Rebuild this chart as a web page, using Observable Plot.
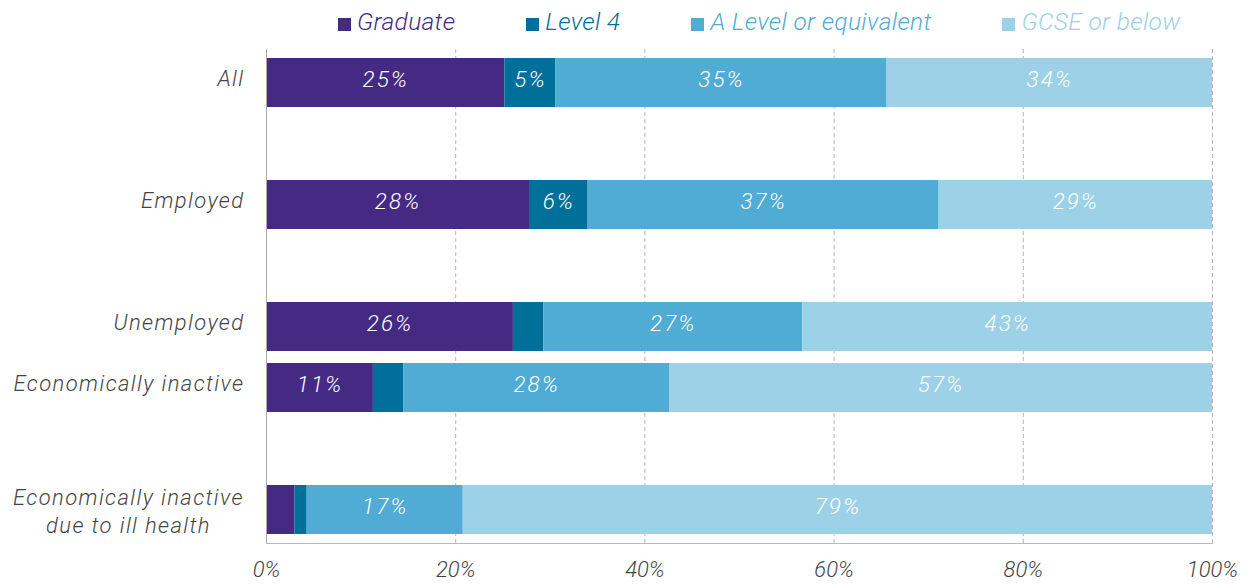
<!DOCTYPE html>
<html><head><meta charset="utf-8">
<script src="https://cdn.jsdelivr.net/npm/d3@7"></script>
<script src="https://cdn.jsdelivr.net/npm/@observablehq/plot@0.6"></script>
<style>
body{margin:0;background:#fff;font-family:Roboto,"DejaVu Sans",sans-serif;}
#legend{height:42px;display:flex;align-items:center;padding-left:338px;gap:71px;font-style:italic;font-size:24.5px;font-weight:300;letter-spacing:0.35px}
.item{display:flex;align-items:center}
.sw{width:13px;height:13px;margin-right:6px;margin-top:6px}
</style></head><body><div id="legend"></div><div id="chart"></div>
<script>
const categories = ["All","Employed","Unemployed","Economically inactive","Economically inactive due to ill health"];
const levels = ["Graduate","Level 4","A Level or equivalent","GCSE or below"];
const colors = ["#452a84","#00709a","#50acd5","#9dd1e7"];
const graduate = [25.2, 27.8, 26.1, 11.3, 3.0];
const level4   = [5.4, 6.2, 3.2, 3.2, 1.3];
const aLevel   = [35.0, 37.1, 27.4, 28.1, 16.5];
const gcse     = [34.4, 28.9, 43.3, 57.4, 79.2];
const xTicks = [0,20,40,60,80,100];

const series = [graduate, level4, aLevel, gcse];
const data = [];
categories.forEach((c,i) => levels.forEach((l,j) => data.push({category:c, level:l, value:series[j][i]})));

// spacer slots reproduce the uneven vertical spacing
const yDomain = [categories[0],"_s1",categories[1],"_s2",categories[2],categories[3],"_s3",categories[4]];
const lastCat = categories[4];

const legend = document.getElementById("legend");
levels.forEach((l,j) => {
  const it = document.createElement("div"); it.className="item"; it.style.color=colors[j];
  const sw = document.createElement("div"); sw.className="sw"; sw.style.background=colors[j];
  it.appendChild(sw); it.appendChild(document.createTextNode(l)); legend.appendChild(it);
});

const font = 'Roboto, "DejaVu Sans", sans-serif';
const chart = Plot.plot({
  width:1249, height:543, marginLeft:266, marginRight:37, marginTop:7, marginBottom:42,
  style:{fontFamily:font, fontSize:"22px", fontStyle:"italic", fontWeight:300, color:"#444", background:"#fff"},
  x:{domain:[0,100], label:null},
  y:{domain:yDomain, padding:0, label:null},
  color:{domain:levels, range:colors},
  marks:[
    Plot.ruleX(xTicks.slice(1), {stroke:"#b5b5b5", strokeDasharray:"4,3"}),
    Plot.barX(data, Plot.stackX({x:"value", y:"category", fill:"level", order:levels, insetTop:6, insetBottom:6})),
    Plot.text(data, Plot.stackX({x:"value", y:"category", z:"level", order:levels, ariaLabel:() => "bar-label", dy:-3,
      text:d => d.value >= 4.5 ? Math.round(d.value)+"%" : null, fill:"white", fontSize:22.5})),
    Plot.ruleX([0], {stroke:"#aaa"}),
    Plot.frame({anchor:"bottom", stroke:"#bbb"}),
    Plot.axisX({ticks:xTicks, tickFormat:d => d+"%", tickSize:0, tickPadding:18, label:null, fill:"#444"}),
    Plot.axisY({ticks:categories.slice(0,4), tickSize:0, tickPadding:22, dy:-4, label:null, fill:"#444"}),
    Plot.text([lastCat], {y:d => d, frameAnchor:"left", dx:-138, textAnchor:"middle", lineHeight:1.25, ariaLabel:() => "y-label-2",
      text:d => "Economically inactive\ndue to ill health", fill:"#444"})
  ]
});
d3.select(chart).selectAll('g[aria-label="y-axis tick label"], [aria-label="y-label-2"]').attr("letter-spacing","1.4px");
d3.select(chart).selectAll('[aria-label="bar-label"]').attr("letter-spacing","2px");
document.getElementById("chart").appendChild(chart);
</script></body></html>
